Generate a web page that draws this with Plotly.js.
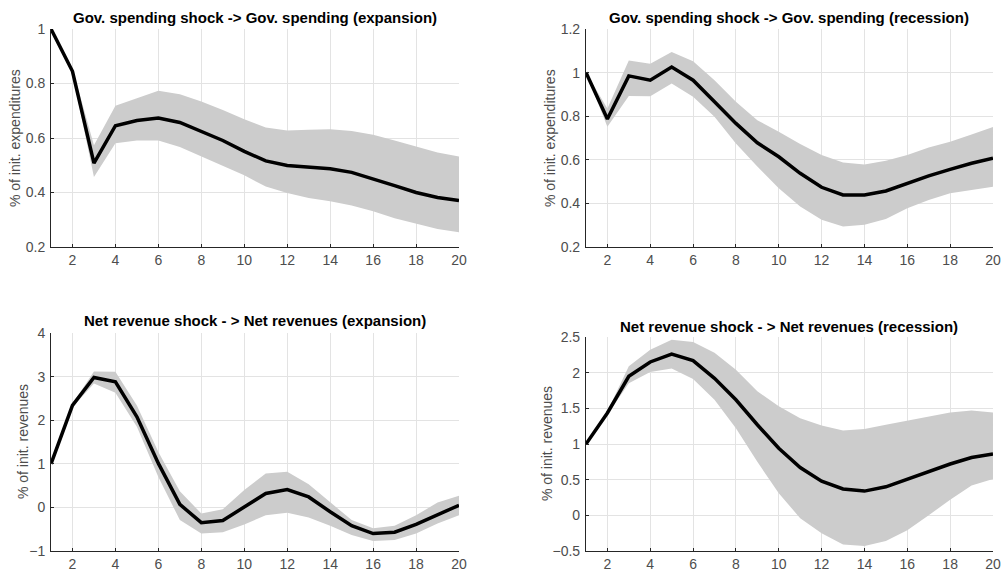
<!DOCTYPE html>
<html>
<head>
<meta charset="utf-8">
<script src="https://cdn.plot.ly/plotly-3.0.1.min.js"></script>
<style>
  html, body { margin: 0; padding: 0; background: #fff; }
  #chart { width: 1002px; height: 571px; }
</style>
</head>
<body>
<div id="chart"></div>
<script>
// horizon (quarters)
const horizon = [1, 2, 3, 4, 5, 6, 7, 8, 9, 10, 11, 12, 13, 14, 15, 16, 17, 18, 19, 20];

// Gov. spending shock -> Gov. spending (expansion)
const gExpMid = [1.0, 0.845, 0.508, 0.645, 0.664, 0.673, 0.657, 0.624, 0.591, 0.551, 0.516, 0.499, 0.493, 0.487, 0.474, 0.451, 0.425, 0.400, 0.382, 0.371];
const gExpUp  = [1.0, 0.855, 0.573, 0.718, 0.746, 0.773, 0.761, 0.734, 0.703, 0.669, 0.639, 0.628, 0.630, 0.632, 0.626, 0.612, 0.591, 0.569, 0.547, 0.532];
const gExpLo  = [1.0, 0.835, 0.457, 0.581, 0.591, 0.591, 0.567, 0.532, 0.499, 0.463, 0.422, 0.398, 0.380, 0.368, 0.352, 0.331, 0.306, 0.286, 0.266, 0.254];

// Gov. spending shock -> Gov. spending (recession)
const gRecMid = [1.0, 0.787, 0.985, 0.965, 1.026, 0.965, 0.866, 0.767, 0.678, 0.614, 0.538, 0.474, 0.439, 0.439, 0.457, 0.492, 0.526, 0.556, 0.584, 0.607];
const gRecUp  = [1.0, 0.835, 1.056, 1.041, 1.095, 1.052, 0.965, 0.866, 0.782, 0.729, 0.672, 0.622, 0.588, 0.579, 0.596, 0.622, 0.657, 0.683, 0.716, 0.751];
const gRecLo  = [1.0, 0.752, 0.893, 0.892, 0.950, 0.889, 0.797, 0.675, 0.569, 0.470, 0.386, 0.325, 0.294, 0.302, 0.329, 0.378, 0.416, 0.447, 0.462, 0.477];

// Net revenue shock -> Net revenues (expansion)
const rExpMid = [1.0, 2.34, 2.98, 2.88, 2.08, 1.01, 0.07, -0.35, -0.30, 0.02, 0.32, 0.41, 0.24, -0.10, -0.42, -0.60, -0.57, -0.39, -0.16, 0.05];
const rExpUp  = [1.0, 2.38, 3.12, 3.11, 2.34, 1.27, 0.37, -0.14, -0.04, 0.40, 0.78, 0.82, 0.53, 0.13, -0.29, -0.48, -0.42, -0.18, 0.11, 0.27];
const rExpLo  = [1.0, 2.30, 2.84, 2.63, 1.85, 0.70, -0.29, -0.60, -0.57, -0.39, -0.18, -0.12, -0.23, -0.42, -0.63, -0.77, -0.75, -0.60, -0.37, -0.18];

// Net revenue shock -> Net revenues (recession)
const rRecMid = [1.0, 1.435, 1.95, 2.15, 2.26, 2.17, 1.92, 1.62, 1.27, 0.94, 0.67, 0.48, 0.37, 0.34, 0.40, 0.51, 0.62, 0.72, 0.81, 0.86];
const rRecUp  = [1.0, 1.46, 2.09, 2.32, 2.46, 2.43, 2.28, 2.04, 1.74, 1.53, 1.36, 1.26, 1.19, 1.21, 1.27, 1.33, 1.39, 1.44, 1.47, 1.44];
const rRecLo  = [1.0, 1.41, 1.85, 2.01, 2.06, 1.91, 1.62, 1.22, 0.75, 0.31, -0.04, -0.25, -0.41, -0.43, -0.36, -0.21, 0.00, 0.22, 0.42, 0.51];

const titles = [
  'Gov. spending shock -> Gov. spending (expansion)',
  'Gov. spending shock -> Gov. spending (recession)',
  'Net revenue shock - > Net revenues (expansion)',
  'Net revenue shock - > Net revenues (recession)'
];
const yLabels = ['% of init. expenditures', '% of init. expenditures', '% of init. revenues', '% of init. revenues'];

const panels = [
  { mid: gExpMid, up: gExpUp, lo: gExpLo, xd: [0.0509, 0.4581], yd: [0.5674, 0.9492], yr: [0.2, 1], dt: 0.2, titleY: 0.970, ylx: 0.015 },
  { mid: gRecMid, up: gRecUp, lo: gRecLo, xd: [0.5848, 0.9910], yd: [0.5674, 0.9492], yr: [0.2, 1.2], dt: 0.2, titleY: 0.970, ylx: 0.549 },
  { mid: rExpMid, up: rExpUp, lo: rExpLo, xd: [0.0509, 0.4581], yd: [0.0350, 0.4168], yr: [-1, 4], dt: 1, titleY: 0.438, ylx: 0.023 },
  { mid: rRecMid, up: rRecUp, lo: rRecLo, xd: [0.5848, 0.9910], yd: [0.0350, 0.4098], yr: [-0.5, 2.5], dt: 0.5, titleY: 0.429, ylx: 0.546 }
];

const font = 'Liberation Sans, Arial, sans-serif';
const traces = [];
const layout = {
  width: 1002, height: 571,
  margin: { l: 0, r: 0, t: 0, b: 0 },
  paper_bgcolor: '#fff', plot_bgcolor: '#fff',
  showlegend: false,
  font: { family: font, size: 12, color: '#262626' },
  annotations: []
};

panels.forEach((p, i) => {
  const n = i + 1;
  const xa = n === 1 ? 'x' : 'x' + n;
  const ya = n === 1 ? 'y' : 'y' + n;
  traces.push({ x: horizon, y: p.lo, xaxis: xa, yaxis: ya, type: 'scatter', mode: 'lines', line: { width: 0, color: 'rgba(0,0,0,0)' }, hoverinfo: 'skip' });
  traces.push({ x: horizon, y: p.up, xaxis: xa, yaxis: ya, type: 'scatter', mode: 'lines', fill: 'tonexty', fillcolor: 'rgb(204,204,204)', line: { width: 0, color: 'rgba(0,0,0,0)' }, hoverinfo: 'skip' });
  traces.push({ x: horizon, y: p.mid, xaxis: xa, yaxis: ya, type: 'scatter', mode: 'lines', line: { width: 3.5, color: '#000' } });

  const axCommon = {
    showgrid: true, gridcolor: '#e3e3e3', gridwidth: 1,
    zeroline: false, showline: true, linecolor: '#262626', linewidth: 1,
    ticks: 'inside', ticklen: 3, tickcolor: '#262626',
    tickfont: { family: font, size: 14, color: '#4d4d4d' }
  };
  layout['xaxis' + (n === 1 ? '' : n)] = Object.assign({}, axCommon, {
    domain: p.xd, range: [1, 20], tick0: 2, dtick: 2, anchor: ya
  });
  layout['yaxis' + (n === 1 ? '' : n)] = Object.assign({}, axCommon, {
    domain: p.yd, range: p.yr, dtick: p.dt, anchor: xa, ticklabelstandoff: 2
  });
  layout.annotations.push({
    text: '<b>' + titles[i] + '</b>', xref: 'paper', yref: 'paper',
    x: (p.xd[0] + p.xd[1]) / 2, y: p.titleY, xanchor: 'center', yanchor: 'middle',
    showarrow: false, font: { family: font, size: 15, color: '#000' }
  });
  layout.annotations.push({
    text: yLabels[i], xref: 'paper', yref: 'paper', textangle: -90,
    x: p.ylx, y: (p.yd[0] + p.yd[1]) / 2, xanchor: 'center', yanchor: 'middle',
    showarrow: false, font: { family: font, size: 14, color: '#4d4d4d' }
  });
});

Plotly.newPlot('chart', traces, layout, { displayModeBar: false, staticPlot: true });
</script>
</body>
</html>
